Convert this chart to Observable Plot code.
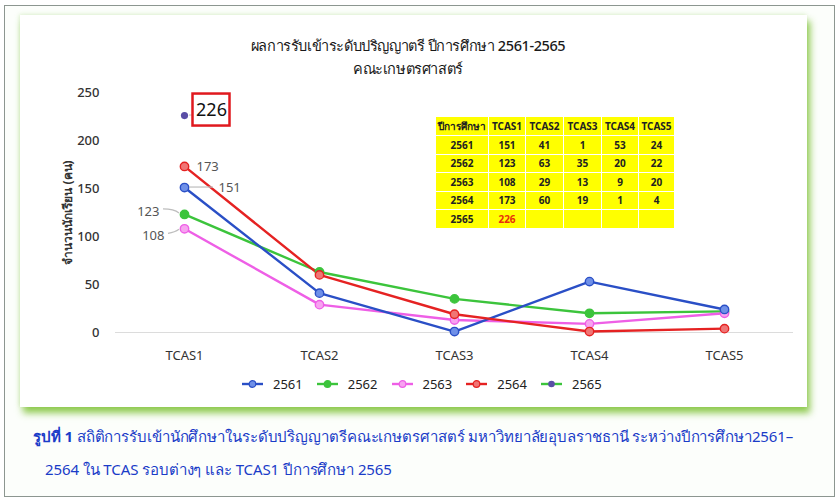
<!DOCTYPE html>
<html>
<head>
<meta charset="utf-8">
<script src="https://cdn.jsdelivr.net/npm/d3@7"></script>
<script src="https://cdn.jsdelivr.net/npm/@observablehq/plot@0.6"></script>
<style>
  body { margin:0; width:837px; height:502px; background:#fff; position:relative; overflow:hidden; font-family:"Noto Sans", "DejaVu Sans", sans-serif; }
  #frame { position:absolute; left:4px; top:5px; width:829px; height:490px; border:1.5px solid #8c9690; background:#fcfefb; }
  #card { position:absolute; left:20px; top:15px; width:787px; height:392px; background:#fff; box-shadow: 3px 6px 7px rgba(130,195,60,0.9), -1px -1px 4px rgba(180,220,150,0.35); }
  .title { position:absolute; left:0; width:776px; text-align:center; font-size:14.5px; letter-spacing:-0.4px; color:#1a1a1a; font-weight:500; }
  #plot { position:absolute; left:0; top:65px; }
  #plot svg { overflow:visible; background:transparent; }
  #legend { position:absolute; top:360px; left:222px; display:flex; gap:14px; font-size:13px; color:#222; align-items:center; }
  #legend .item { display:flex; align-items:center; gap:10px; }
  #tbl { position:absolute; left:415px; top:101px; border-collapse:collapse; background:#ffff00; font-size:10px; font-weight:bold; color:#222; }
  #tbl td { border:1px solid #fff; text-align:center; padding:0; height:17.5px; }
  #caption { position:absolute; left:33px; top:420px; width:800px; color:#1a3cc8; font-size:15px; letter-spacing:-0.1px; line-height:33px; white-space:nowrap; }
  #caption .l2 { padding-left:12px; }
</style>
</head>
<body>
<div id="frame"></div>
<div id="card">
  <div class="title" style="top:19px">ผลการรับเข้าระดับปริญญาตรี ปีการศึกษา 2561-2565</div>
  <div class="title" style="top:42px">คณะเกษตรศาสตร์</div>
  <div id="plot"></div>
  <div id="legend"></div>
  <table id="tbl"></table>
</div>
<div id="caption"><b>รูปที่ 1</b> สถิติการรับเข้านักศึกษาในระดับปริญญาตรีคณะเกษตรศาสตร์ มหาวิทยาลัยอุบลราชธานี ระหว่างปีการศึกษา2561–<br><span class="l2">2564 ใน TCAS รอบต่างๆ และ TCAS1 ปีการศึกษา 2565</span></div>
<script>
// ---- data ----
const rounds = ["TCAS1","TCAS2","TCAS3","TCAS4","TCAS5"];
const years = ["2561","2562","2563","2564","2565"];
const v2561 = [151, 41, 1, 53, 24];
const v2562 = [123, 63, 35, 20, 22];
const v2563 = [108, 29, 13, 9, 20];
const v2564 = [173, 60, 19, 1, 4];
const v2565 = [226];
const yTicks = [0, 50, 100, 150, 200, 250];
const lineColors = {"2561":"#2a4fc6","2562":"#3cc43c","2563":"#ee5fe6","2564":"#e52222","2565":"#3cc43c"};
const dotFill = {"2561":"#6f90e8","2562":"#3cc43c","2563":"#f7a3f0","2564":"#f07575","2565":"#5a4ea6"};
const tableHeader = ["ปีการศึกษา", ...rounds];

const series = {"2561":v2561,"2562":v2562,"2563":v2563,"2564":v2564,"2565":v2565};
const drawOrder = ["2562","2563","2561","2564"];
const rows = [];
for (const yr of drawOrder) series[yr].forEach((v,i)=>rows.push({year:yr, round:rounds[i], value:v}));
const pt2565 = v2565.map((v,i)=>({year:"2565", round:rounds[i], value:v}));

const font = `"Noto Sans", "DejaVu Sans", sans-serif`;

const annot = (index, scales) => {
  const g = d3.create("svg:g").attr("fill","none");
  const x0 = scales.x("TCAS1");
  const Y = v => scales.y(v);
  const lc = "#bdbdbd";
  g.append("line").attr("x1",x0+5).attr("x2",x0+29).attr("y1",Y(v2561[0])).attr("y2",Y(v2561[0])).attr("stroke",lc).attr("stroke-width",1.2);
  g.append("path").attr("d",`M${x0-21},${Y(v2562[0])-5} Q${x0-10},${Y(v2562[0])-5} ${x0-5},${Y(v2562[0])-1}`).attr("stroke",lc).attr("stroke-width",1.2);
  g.append("path").attr("d",`M${x0-16},${Y(v2563[0])+5} Q${x0-9},${Y(v2563[0])+4} ${x0-5},${Y(v2563[0])+1}`).attr("stroke",lc).attr("stroke-width",1.2);
  g.append("line").attr("x1",x0+5).attr("x2",x0+8).attr("y1",Y(v2565[0])).attr("y2",Y(v2565[0])).attr("stroke",lc);
  g.append("rect").attr("x",x0+8.5).attr("y",Y(v2565[0])-21.5).attr("width",37).attr("height",32).attr("stroke","#e0191e").attr("stroke-width",2.5);
  return g.node();
};

const plot = Plot.plot({
  width: 787, height: 290,
  marginLeft: 95, marginRight: 14, marginTop: 12, marginBottom: 38,
  style: {fontFamily: font, fontSize: "13px", color:"#333", background:"transparent"},
  x: {type:"point", domain: rounds, label: null, tickSize: 0, tickPadding: 18},
  y: {domain:[0,250], ticks: yTicks, tickSize:0, tickPadding: 16, label:"จำนวนนักเรียน (คน)", labelAnchor:"center", labelArrow:"none", labelOffset:52},
  marks: [
    Plot.ruleY([0], {stroke:"#dcdcdc", strokeWidth:1.2}),
    Plot.line(rows, {x:"round", y:"value", z:"year", stroke:d=>lineColors[d.year], strokeWidth:2.4}),
    Plot.dot(rows, {x:"round", y:"value", r:4.2, fill:d=>dotFill[d.year], stroke:d=>lineColors[d.year], strokeWidth:1.4}),
    Plot.dot(pt2565, {x:"round", y:"value", r:3.6, fill:"#5a4ea6"}),
    annot,
    Plot.text([v2564[0]], {x:()=>"TCAS1", y:d=>d, text:d=>String(d), dx:12, textAnchor:"start", fill:"#555", fontSize:13}),
    Plot.text([v2561[0]], {x:()=>"TCAS1", y:d=>d, text:d=>String(d), dx:34, textAnchor:"start", fill:"#555", fontSize:13}),
    Plot.text([v2562[0]], {x:()=>"TCAS1", y:d=>d, text:d=>String(d), dx:-25, dy:-3, textAnchor:"end", fill:"#555", fontSize:13}),
    Plot.text([v2563[0]], {x:()=>"TCAS1", y:d=>d, text:d=>String(d), dx:-20, dy:7, textAnchor:"end", fill:"#555", fontSize:13}),
    Plot.text([v2565[0]], {x:()=>"TCAS1", y:d=>d, text:d=>String(d), dx:27, dy:-5, textAnchor:"middle", fill:"#111", fontSize:18})
  ]
});
d3.select(plot).selectAll("[aria-label='y-axis label'] text, [aria-label='y-axis label']").attr("font-weight","bold").attr("font-size","12px").attr("fill","#333");
d3.select(plot).selectAll("[aria-label='y-axis tick label'] text, [aria-label='y-axis tick label']").attr("font-weight","500");
document.getElementById("plot").appendChild(plot);

// legend
const leg = d3.select("#legend");
years.forEach(yr => {
  const it = leg.append("div").attr("class","item");
  const s = it.append("svg").attr("width",21).attr("height",10);
  s.append("line").attr("x1",0).attr("x2",21).attr("y1",5).attr("y2",5).attr("stroke",lineColors[yr]).attr("stroke-width",2.4);
  s.append("circle").attr("cx",10.5).attr("cy",5).attr("r",3.3).attr("fill",dotFill[yr]).attr("stroke",yr==="2565"?"none":lineColors[yr]).attr("stroke-width",1.2);
  it.append("span").text(yr);
});

// table
const tbl = d3.select("#tbl");
const widths = [52,36,37,37,36,35];
const hr = tbl.append("tr");
tableHeader.forEach((h,i)=>hr.append("td").style("width",widths[i]+"px").style("height","18px").text(h));
years.forEach(yr=>{
  const tr = tbl.append("tr");
  tr.append("td").text(yr);
  rounds.forEach((r,i)=>{
    const v = series[yr][i];
    tr.append("td").style("color", yr==="2565" ? "#e8300c" : null).text(v===undefined ? "" : v);
  });
});
</script>
</body>
</html>
